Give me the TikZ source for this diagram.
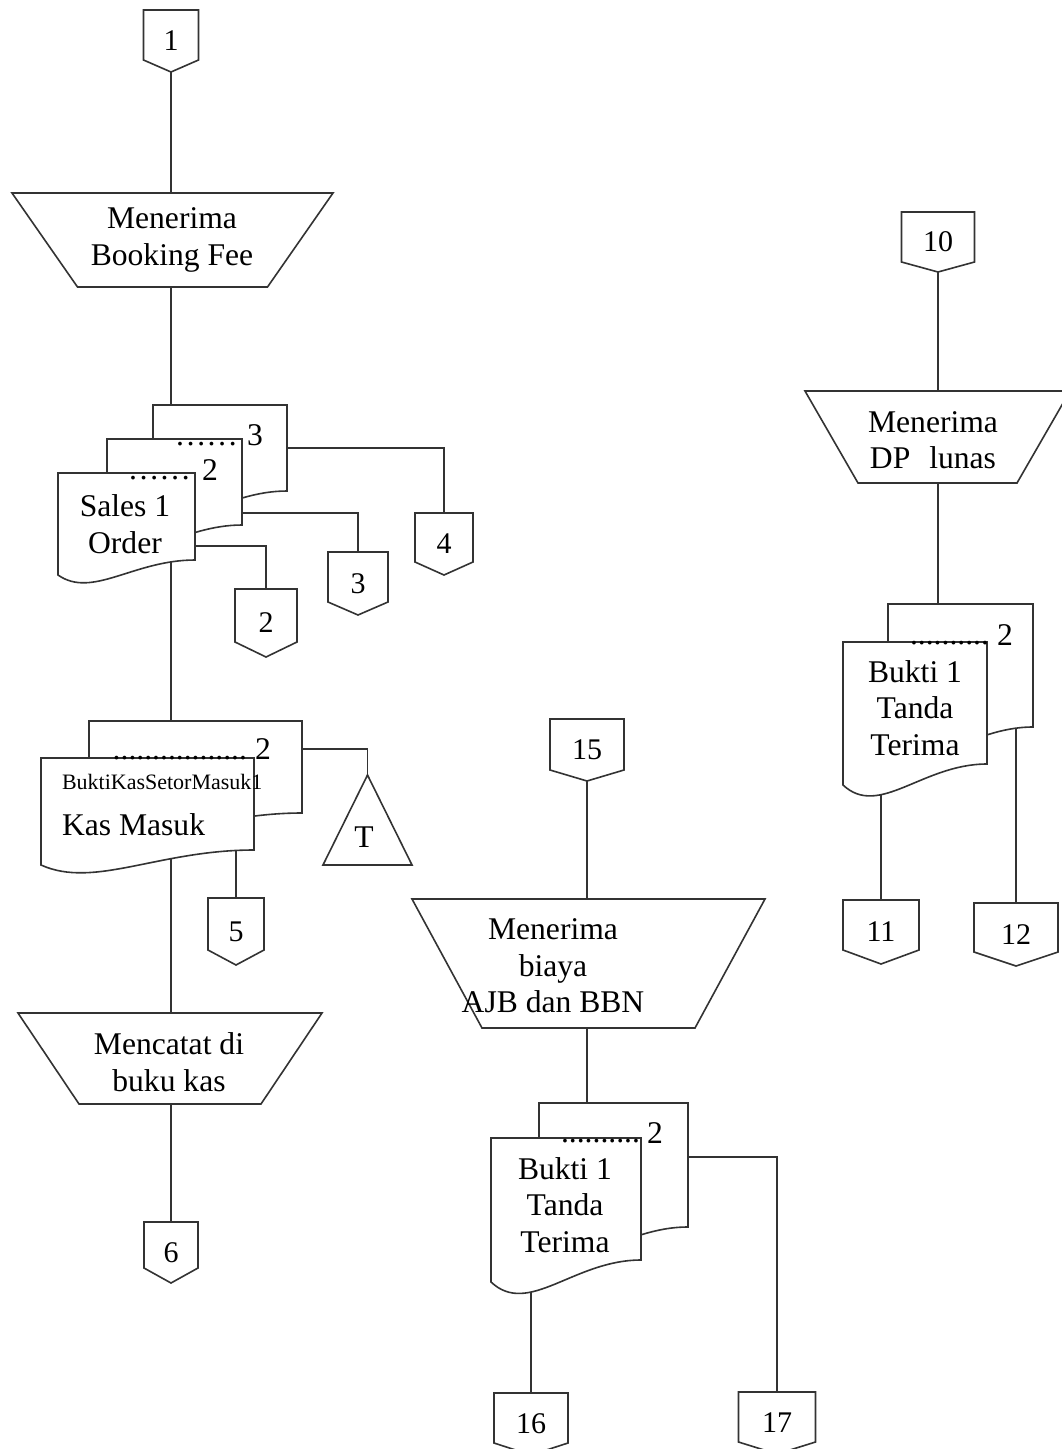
\documentclass[tikz,border=0pt]{standalone}
\usepackage{fontspec}
\setmainfont{Liberation Serif}
\usetikzlibrary{calc}

\newcommand{\bigtext}{\fontsize{31.6}{36.5}\selectfont}
\newcommand{\smalltext}{\fontsize{22}{26}\selectfont}
\newcommand{\numtext}{\fontsize{30}{34}\selectfont}

\tikzset{
  outl/.style={draw=black!80, line width=1.6pt, line join=miter},
  conn/.style={draw=black!80, line width=1.6pt},
  inv/.style={inner sep=0pt, outer sep=0pt, draw=none},
  num/.style={inv, font=\numtext},
  lbl/.style={inner sep=0pt, outer sep=0pt, font=\bigtext, align=center},
  dotrow/.style={inner sep=0pt, outer sep=0pt, font=\bigtext, anchor=base east},
}

% off-page connector: name, centre x, top y, tip y, width, tip depth, text
\newcommand{\offpage}[7]{%
  \node[num, minimum width=#5, minimum height={#4-#3}] (#1) at (#2,{(#3+#4)/2}) {#7};
  \draw[outl] (#1.north west) -- (#1.north east) -- ([yshift=#6pt]#1.south east)
     -- (#1.south) -- ([yshift=#6pt]#1.south west) -- cycle;}

% document frame: name, left, top, right, lower right corner
\newcommand{\docnode}[5]{%
  \node[inv, minimum width={#4-#2}, minimum height={#5-#3}] (#1) at ({(#2+#4)/2},{(#3+#5)/2}) {};}
% document outline with wavy bottom: name, drop of the lower left corner
\newcommand{\docdraw}[2]{%
  \filldraw[outl, fill=white] (#1.north west) -- (#1.north east) -- (#1.south east)
    .. controls ($(#1.south west)!0.55!(#1.south east)$)
       and ($(#1.south west)!0.25!(#1.south east)+(0,{2.6*#2})$)
    .. ($(#1.south west)+(0,#2)$) -- cycle;}

% manual operation: name, centre x, top, bottom, top width, inset of bottom corners
\newcommand{\trapz}[6]{%
  \node[inv, minimum width=#5, minimum height={#4-#3}] (#1) at (#2,{(#3+#4)/2}) {};
  \draw[outl] (#1.north west) -- (#1.north east) -- ([xshift=-#6pt]#1.south east)
     -- ([xshift=#6pt]#1.south west) -- cycle;}

\begin{document}
\begin{tikzpicture}[x=1pt, y=-1pt]
\useasboundingbox (0,0) rectangle (1062,1449);
\fill[white] (0,0) rectangle (1062,1449);

% ---------- off-page connectors ----------
\offpage{c1}{171}{10}{72}{55}{12}{1}
\offpage{c2}{266}{589}{657}{62}{15}{2}
\offpage{c3}{358}{552}{615}{60}{13}{3}
\offpage{c4}{444}{513}{575}{58}{13}{4}
\offpage{c5}{236}{898}{965}{56}{15}{5}
\offpage{c6}{171}{1222}{1283}{54}{15}{6}
\offpage{c10}{938}{212}{272}{73}{10}{10}
\offpage{c15}{587}{719}{781}{74}{11}{15}
\offpage{c11}{881}{900}{964}{76}{14}{11}
\offpage{c12}{1016}{903}{966}{84}{14}{12}
\offpage{c16}{531}{1393}{1455}{74}{12}{16}
\offpage{c17}{777}{1392}{1454}{77}{12}{17}

% ---------- manual operations ----------
\trapz{t1}{172.5}{193}{287}{321}{65.5}
\trapz{t2}{170}{1013}{1104}{304}{61}
\trapz{t15}{588.5}{899}{1028}{353}{70}
\trapz{t10}{937.5}{391}{483}{265}{53}

% ---------- archive ----------
\node[inv, minimum width=89, minimum height=90] (tri) at (367.5,820) {};
\draw[outl] (tri.north) -- (tri.south east) -- (tri.south west) -- cycle;

% ---------- document frames ----------
\docnode{sA3}{153}{405}{287}{491}
\docnode{sA2}{107}{439}{242}{525}
\docnode{sA1}{58}{473}{195}{560}
\docnode{bB2}{89}{721}{302}{813}
\docnode{bB1}{41}{758}{254}{850}
\docnode{rB2}{888}{604}{1033}{727}
\docnode{rB1}{843}{642}{987}{764}
\docnode{mB2}{539}{1103}{688}{1227}
\docnode{mB1}{491}{1138}{641}{1260}

% ---------- flow lines ----------
\draw[conn] (c1.south) -- (t1.north -| c1.south);
\draw[conn] (t1.south -| c1.south) -- (sA3.north -| c1.south);
\draw[conn] (sA3.east) -| (c4.north);
\draw[conn] ([yshift=-74pt]sA2.north east) -| (c3.north);
\draw[conn] ([yshift=-73pt]sA1.north east) -| (c2.north);
\draw[conn] (sA1.south -| c1.south) -- (bB2.north -| c1.south);
\draw[conn] ([yshift=-28pt]bB2.north east) -| (tri.north);
\draw[conn] (bB1.south -| c5.north) -- (c5.north);
\draw[conn] (bB1.south -| c6.north) -- (t2.north -| c6.north);
\draw[conn] (t2.south -| c6.north) -- (c6.north);

\draw[conn] (c10.south) -- (t10.north -| c10.south);
\draw[conn] (t10.south -| c10.south) -- (rB2.north -| c10.south);
\draw[conn] (rB1.south -| c11.north) -- (c11.north);
\draw[conn] (rB2.south -| c12.north) -- (c12.north);

\draw[conn] (c15.south) -- (t15.north -| c15.south);
\draw[conn] (t15.south -| c15.south) -- (mB2.north -| c15.south);
\draw[conn] ([yshift=-54pt]mB2.north east) -| (c17.north);
\draw[conn] (mB1.south -| c16.north) -- (c16.north);

% ---------- documents, back to front ----------
\docdraw{sA3}{16}
\docdraw{sA2}{16}
\docdraw{sA1}{15}
\docdraw{bB2}{15}
\docdraw{bB1}{15}
\docdraw{rB2}{20}
\docdraw{rB1}{21}
\docdraw{mB2}{20}
\docdraw{mB1}{22}

% ---------- texts ----------
\node[lbl] (t1txt) at (172,240) {Menerima\\Booking Fee};
\node[lbl] (t2txt) at (169,1062) {Mencatat di\\buku kas};
\node[lbl] (t15txt) at (553,966) {Menerima\\biaya\\AJB dan BBN};
\node[lbl] (t10txt) at (933,440) {Menerima\\DP\hspace{0.6em}lunas};
\node[lbl] (triT) at (364,837) {T};

\node[lbl] (sAtxt) at (125,524) {Sales 1\\Order};
\node[dotrow] (sAdots1) at (191,479) {……};
\node[dotrow] (sAdots2) at (238,445) {……};
\node[lbl] (sAn2) at (210,470) {2};
\node[lbl] (sAn3) at (255,435) {3};

\node[inv, font=\smalltext, anchor=west] (bBtxt1) at (62,782) {BuktiKasSetorMasuk1};
\node[inv, font=\bigtext, anchor=west] (bBtxt2) at (62,825) {Kas Masuk};
\node[dotrow] (bBdots) at (247,759) {.................};
\node[lbl] (bBn2) at (263,749) {2};

\node[lbl] (rBtxt) at (915,708) {Bukti 1\\Tanda\\Terima};
\node[dotrow] (rBdots) at (989,644) {..........};
\node[lbl] (rBn2) at (1005,635) {2};

\node[lbl] (mBtxt) at (565,1205) {Bukti 1\\Tanda\\Terima};
\node[dotrow] (mBdots) at (640,1142) {..........};
\node[lbl] (mBn2) at (655,1133) {2};
\end{tikzpicture}
\end{document}
